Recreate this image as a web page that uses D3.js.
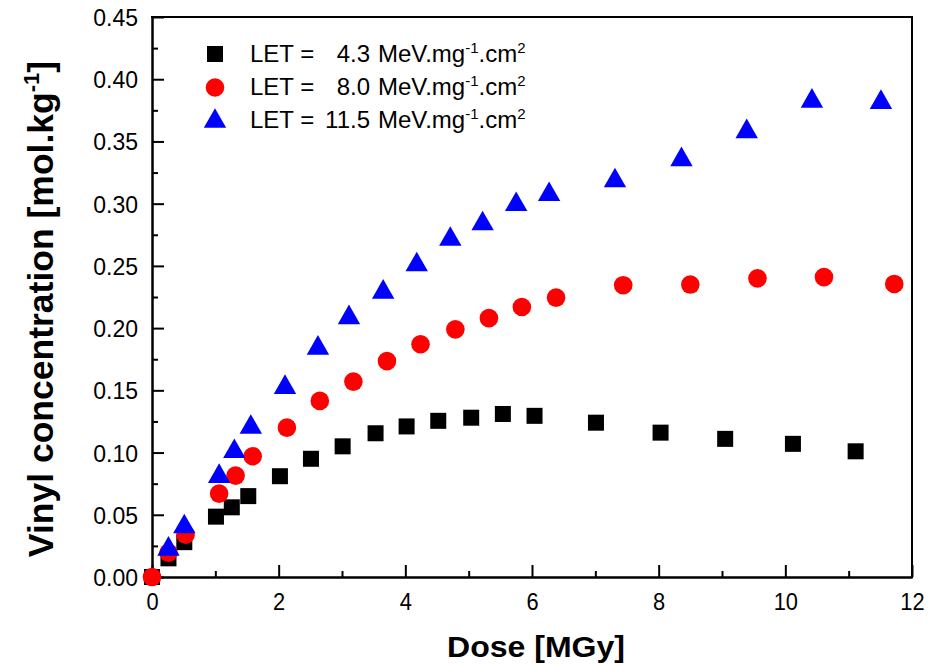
<!DOCTYPE html>
<html>
<head>
<meta charset="utf-8">
<script src="https://cdn.jsdelivr.net/npm/d3@7"></script>
<style>
  html, body { margin: 0; padding: 0; background: #fff; }
  svg { display: block; font-family: Arial, "Liberation Sans", Helvetica, sans-serif; }
</style>
</head>
<body>
<svg id="chart" width="931" height="665"></svg>
<script>
// ---- data ----
const doseLow = [0, 0.26, 0.51, 1.01, 1.26, 1.52, 2.02, 2.51, 3.01, 3.53, 4.02, 4.52, 5.04, 5.54, 6.04, 7.01, 8.03, 9.05, 10.12, 11.11];
const concLow = [0, 0.015, 0.028, 0.0485, 0.056, 0.065, 0.081, 0.095, 0.105, 0.1155, 0.121, 0.1255, 0.128, 0.131, 0.1295, 0.124, 0.116, 0.111, 0.107, 0.101];

const doseMid = [0, 0.26, 0.53, 1.06, 1.32, 1.59, 2.13, 2.65, 3.18, 3.71, 4.24, 4.79, 5.32, 5.84, 6.38, 7.44, 8.5, 9.56, 10.61, 11.72];
const concMid = [0, 0.0195, 0.034, 0.067, 0.0815, 0.097, 0.12, 0.1415, 0.157, 0.1735, 0.187, 0.199, 0.208, 0.217, 0.2245, 0.2345, 0.235, 0.24, 0.241, 0.2355];

const doseHigh = [0.26, 0.51, 1.06, 1.3, 1.56, 2.1, 2.62, 3.11, 3.65, 4.18, 4.71, 5.22, 5.75, 6.27, 7.31, 8.36, 9.39, 10.42, 11.51];
const concHigh = [0.025, 0.043, 0.0835, 0.1035, 0.123, 0.155, 0.1865, 0.211, 0.2315, 0.2535, 0.274, 0.2865, 0.302, 0.31, 0.321, 0.338, 0.3605, 0.385, 0.384];

const seriesNames = ["4.3", "8.0", "11.5"];
const seriesColors = ["#000000", "#ff0000", "#0000ff"];
const seriesShapes = ["square", "circle", "triangle"];

const xTicks = [0, 2, 4, 6, 8, 10, 12];
const xMinorTicks = [1, 3, 5, 7, 9, 11];
const yTicks = [0, 0.05, 0.10, 0.15, 0.20, 0.25, 0.30, 0.35, 0.40, 0.45];
const yMinorTicks = [0.025, 0.075, 0.125, 0.175, 0.225, 0.275, 0.325, 0.375, 0.425];

const xTitle = "Dose [MGy]";
const yTitle = "Vinyl concentration [mol.kg";

// ---- layout ----
const svg = d3.select("#chart");
const L = 152, R = 912, T = 17, B = 577;
const x = d3.scaleLinear().domain([0, 12]).range([L, R]);
const y = d3.scaleLinear().domain([0, 0.45]).range([B, T]);

const series = [
  doseLow.map((d, i) => ({ x: d, y: concLow[i] })),
  doseMid.map((d, i) => ({ x: d, y: concMid[i] })),
  doseHigh.map((d, i) => ({ x: d, y: concHigh[i] }))
];

// ---- axes ----
const axisStroke = 2;
const gx = svg.append("g").attr("transform", `translate(0,${B})`)
  .call(d3.axisBottom(x).tickValues(xTicks).tickSizeInner(-12).tickSizeOuter(0).tickPadding(14).tickFormat(d3.format("d")));
const gxm = svg.append("g").attr("transform", `translate(0,${B})`)
  .call(d3.axisBottom(x).tickValues(xMinorTicks).tickSizeInner(-6).tickSizeOuter(0).tickFormat(""));
const gy = svg.append("g").attr("transform", `translate(${L},0)`)
  .call(d3.axisLeft(y).tickValues(yTicks).tickSizeInner(-12).tickSizeOuter(0).tickPadding(14).tickFormat(d3.format(".2f")));
const gym = svg.append("g").attr("transform", `translate(${L},0)`)
  .call(d3.axisLeft(y).tickValues(yMinorTicks).tickSizeInner(-6).tickSizeOuter(0).tickFormat(""));

[gx, gxm, gy, gym].forEach(g => {
  g.selectAll("path.domain").attr("stroke", "#000").attr("stroke-width", axisStroke);
  g.selectAll(".tick line").attr("stroke", "#000").attr("stroke-width", axisStroke);
  g.selectAll(".tick text").attr("fill", "#000").style("font-size", "23px")
    .style("font-family", "Arial, 'Liberation Sans', sans-serif");
});
gx.selectAll(".tick text").attr("dy", "0.71em").attr("transform", "scale(0.95,1.08)")
  .attr("x", function () { return 0; });
gy.selectAll(".tick text").attr("dy", "0.37em");

// frame top and right
svg.append("line").attr("x1", L - 1).attr("x2", R + 1).attr("y1", T).attr("y2", T)
  .attr("stroke", "#000").attr("stroke-width", axisStroke);
svg.append("line").attr("x1", R).attr("x2", R).attr("y1", T).attr("y2", B + 1)
  .attr("stroke", "#000").attr("stroke-width", axisStroke);

// ---- markers ----
function drawMarker(sel, shape, color) {
  if (shape === "square") {
    sel.append("rect").attr("x", -8).attr("y", -8).attr("width", 16).attr("height", 16).attr("fill", color);
  } else if (shape === "circle") {
    sel.append("circle").attr("r", 9.3).attr("fill", color);
  } else {
    sel.append("path").attr("d", "M0,-9.8L11.2,9.8L-11.2,9.8Z").attr("fill", color);
  }
}

series.forEach((pts, si) => {
  const g = svg.append("g");
  g.selectAll("g.pt").data(pts).enter().append("g")
    .attr("class", "pt")
    .attr("transform", d => `translate(${x(d.x)},${y(d.y)})`)
    .each(function () { drawMarker(d3.select(this), seriesShapes[si], seriesColors[si]); });
});

// ---- legend ----
const legendRows = [54, 87.5, 118];
const legendBase = [61.5, 95, 128];
seriesNames.forEach((name, i) => {
  const m = svg.append("g").attr("transform", `translate(215,${legendRows[i]})`);
  drawMarker(m, seriesShapes[i], seriesColors[i]);
  svg.append("text").attr("x", 250).attr("y", legendBase[i]).style("font-size", "24px").text("LET =");
  svg.append("text").attr("x", 370).attr("y", legendBase[i]).attr("text-anchor", "end").style("font-size", "24px").text(name);
  const t = svg.append("text").attr("x", 378).attr("y", legendBase[i]).style("font-size", "24px");
  t.append("tspan").text("MeV.mg");
  t.append("tspan").attr("dy", -9).style("font-size", "15px").text("-1");
  t.append("tspan").attr("dy", 9).text(".cm");
  t.append("tspan").attr("dy", -9).style("font-size", "15px").text("2");
});

// ---- titles ----
svg.append("text").attr("x", 536).attr("y", 657).attr("text-anchor", "middle")
  .style("font-size", "29px").style("font-weight", "bold")
  .attr("textLength", 178).attr("lengthAdjust", "spacingAndGlyphs")
  .text(xTitle);

const yt = svg.append("text").attr("transform", "translate(53,309) rotate(-90)")
  .attr("text-anchor", "middle")
  .style("font-size", "35.5px").style("font-weight", "bold");
yt.append("tspan").text(yTitle);
yt.append("tspan").attr("dy", -14).style("font-size", "22px").text("-1");
yt.append("tspan").attr("dy", 14).text("]");
</script>
</body>
</html>
